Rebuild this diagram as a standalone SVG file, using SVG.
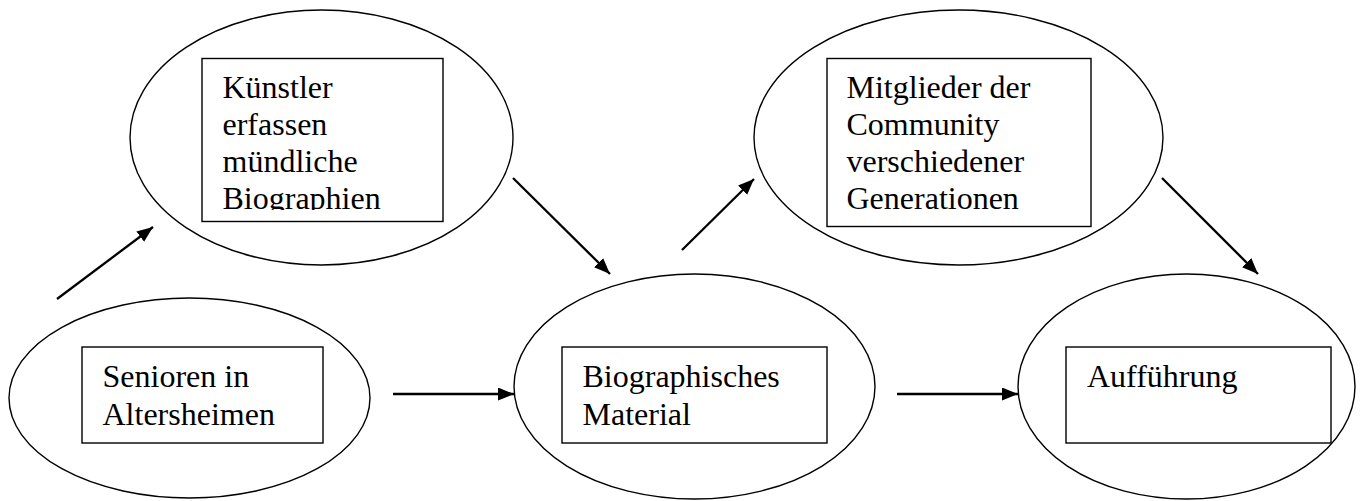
<svg xmlns="http://www.w3.org/2000/svg" width="1360" height="501" viewBox="0 0 1360 501">
<style>
.ell{fill:none;stroke:#000;stroke-width:1.4}
.box{fill:#fff;stroke:#000;stroke-width:1.4}
.t{font-family:"Liberation Serif","Times New Roman",serif;font-size:32px;fill:#000}
.c{stroke:#000;stroke-width:2.3;fill:none;marker-end:url(#ah)}
</style>
<defs>
<marker id="ah" markerUnits="userSpaceOnUse" markerWidth="17" markerHeight="14" refX="16" refY="6.5" orient="auto">
<path d="M0,0 L16,6.5 L0,13 z" fill="#000"/>
</marker>
<clipPath id="clip1"><rect x="202" y="58" width="241" height="152"/></clipPath>
</defs>
<g id="n1">
<ellipse class="ell" cx="321.5" cy="137.5" rx="191.5" ry="127.5"/>
<rect class="box" x="202" y="58.5" width="241" height="163"/>
<g clip-path="url(#clip1)">
<text class="t" x="222.5" y="98">Künstler</text>
<text class="t" x="222.5" y="135">erfassen</text>
<text class="t" x="222.5" y="172">mündliche</text>
<text class="t" x="222.5" y="208.5">Biographien</text>
</g>
</g>
<g id="n2">
<ellipse class="ell" cx="958.5" cy="137.5" rx="204.5" ry="127.5"/>
<rect class="box" x="827" y="58.5" width="264" height="168"/>
<text class="t" x="846.5" y="98">Mitglieder der</text>
<text class="t" x="846.5" y="135">Community</text>
<text class="t" x="846.5" y="172">verschiedener</text>
<text class="t" x="846.5" y="208.5">Generationen</text>
</g>
<g id="n3">
<ellipse class="ell" cx="189.5" cy="398" rx="180.5" ry="100"/>
<rect class="box" x="82" y="347" width="241" height="96"/>
<text class="t" x="102.5" y="386.5">Senioren in</text>
<text class="t" x="102.5" y="425">Altersheimen</text>
</g>
<g id="n4">
<ellipse class="ell" cx="694.5" cy="386.5" rx="180.5" ry="112.5"/>
<rect class="box" x="562" y="347" width="265" height="96"/>
<text class="t" x="582.5" y="386.5">Biographisches</text>
<text class="t" x="582.5" y="425">Material</text>
</g>
<g id="n5">
<ellipse class="ell" cx="1186.5" cy="386.5" rx="168.5" ry="112.5"/>
<rect class="box" x="1066" y="347" width="265" height="96"/>
<text class="t" x="1087" y="386.5">Aufführung</text>
</g>
<g id="connectors">
<line class="c" x1="57" y1="299" x2="153" y2="227"/>
<line class="c" x1="513" y1="178" x2="610" y2="274"/>
<line class="c" x1="682" y1="250" x2="754" y2="179"/>
<line class="c" x1="1162" y1="178" x2="1258" y2="274"/>
<line class="c" x1="393" y1="394" x2="514" y2="394"/>
<line class="c" x1="897" y1="394" x2="1018" y2="394"/>
</g>
</svg>
